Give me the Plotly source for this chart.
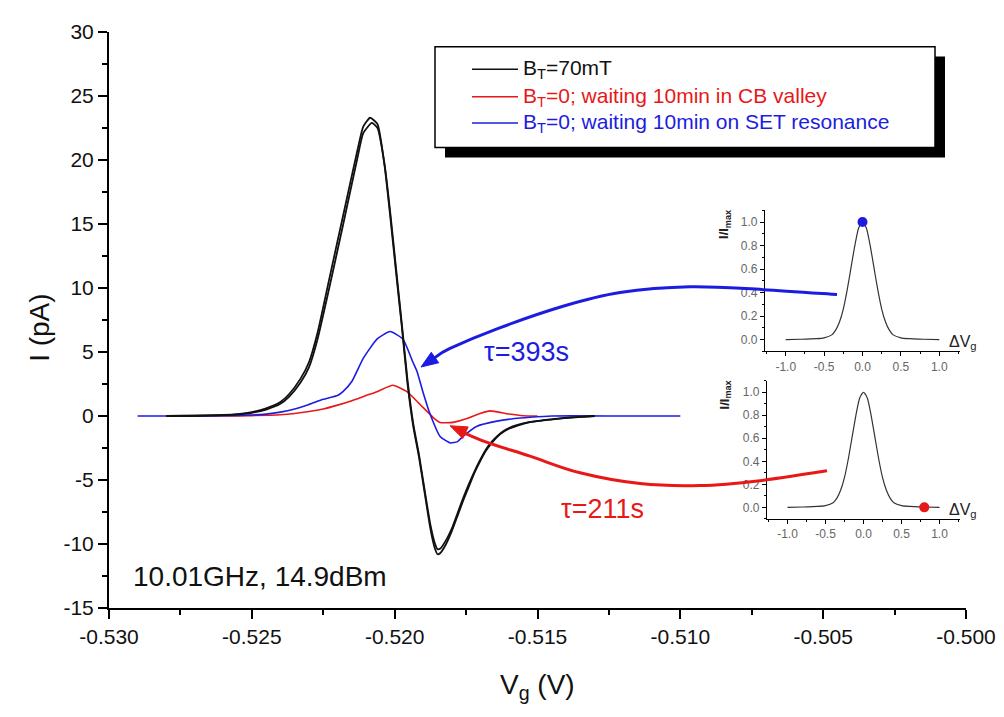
import math
import plotly.graph_objects as go

# ---------------- data ----------------
legend_names = ["B<sub>T</sub>=70mT",
                "B<sub>T</sub>=0; waiting 10min in CB valley",
                "B<sub>T</sub>=0; waiting 10min on SET resonance"]

black_a_x = [-0.5280, -0.5270, -0.5260, -0.5255, -0.5250, -0.5245, -0.5240, -0.5237, -0.5233, -0.5230,
             -0.5227, -0.5223, -0.5218, -0.5213, -0.5211, -0.52086, -0.5206, -0.52035, -0.52015, -0.51995,
             -0.51975, -0.51955, -0.51935, -0.51915, -0.51895, -0.51875, -0.5186, -0.5185, -0.5184, -0.5182,
             -0.5180, -0.5178, -0.5176, -0.5174, -0.5172, -0.5170, -0.5168, -0.5166, -0.5164, -0.5162,
             -0.5160, -0.5157, -0.5153, -0.5148, -0.5143, -0.5138, -0.5133, -0.5130]
black_a_y = [0, 0.02, 0.08, 0.15, 0.3, 0.6, 1.1, 1.7, 2.9, 4.2,
             6.5, 10.6, 15.7, 20.8, 22.6, 23.3, 22.8, 19.5, 15.5, 11.2,
             7.0, 2.5, -0.8, -3.2, -6.0, -8.8, -10.3, -10.8, -10.7, -10.0,
             -9.0, -7.8, -6.6, -5.5, -4.4, -3.5, -2.7, -2.1, -1.6, -1.25,
             -1.0, -0.75, -0.5, -0.35, -0.22, -0.12, -0.05, 0]

black_b_x = [-0.5280, -0.5270, -0.5260, -0.5255, -0.5250, -0.5245, -0.5240, -0.5237, -0.5233, -0.5230,
             -0.5227, -0.5223, -0.5218, -0.5213, -0.5211, -0.5208, -0.5206, -0.52035, -0.52015, -0.51995,
             -0.51975, -0.51955, -0.51935, -0.51915, -0.51895, -0.51875, -0.5186, -0.5185, -0.5184, -0.5182,
             -0.5180, -0.5178, -0.5176, -0.5174, -0.5172, -0.5170, -0.5168, -0.5166, -0.5164, -0.5162,
             -0.5160, -0.5157, -0.5153, -0.5148, -0.5143, -0.5138, -0.5133, -0.5130]
black_b_y = [0, 0.02, 0.07, 0.13, 0.25, 0.5, 0.95, 1.5, 2.6, 3.8,
             6.0, 9.9, 15.0, 20.2, 22.1, 22.9, 22.5, 19.6, 15.8, 11.5,
             7.2, 2.8, -0.6, -3.0, -5.8, -8.5, -9.9, -10.4, -10.35, -9.7,
             -8.8, -7.6, -6.4, -5.3, -4.3, -3.4, -2.6, -2.0, -1.55, -1.2,
             -0.95, -0.7, -0.48, -0.33, -0.2, -0.11, -0.04, 0]

blue_x = [-0.5290, -0.5270, -0.5260, -0.5250, -0.5245, -0.5240, -0.5235, -0.5230, -0.5225, -0.5220,
          -0.52181, -0.5215, -0.5211, -0.52062, -0.52016, -0.51971, -0.51936, -0.51922, -0.5190, -0.51876,
          -0.51841, -0.51806, -0.5178, -0.51761, -0.51712, -0.51642, -0.5158, -0.51526, -0.5145, -0.5120,
          -0.5100]
blue_y = [0, 0, 0.02, 0.08, 0.15, 0.3, 0.55, 0.9, 1.3, 1.6,
          1.9, 2.7, 4.5, 6.0, 6.6, 6.0, 4.2, 3.5, 1.8, 0.15,
          -1.6, -2.1, -2.0, -1.6, -0.8, -0.4, -0.2, -0.1, 0, 0,
          0]

red_x = [-0.5280, -0.5260, -0.5250, -0.5240, -0.5235, -0.5230, -0.5225, -0.5220, -0.5215, -0.5210,
         -0.52062, -0.52006, -0.51957, -0.51911, -0.51866, -0.51841, -0.51796, -0.51747, -0.51701, -0.51666,
         -0.5160, -0.5155, -0.5150]
red_y = [0, 0, 0.03, 0.1, 0.2, 0.35, 0.55, 0.85, 1.2, 1.6,
         1.9, 2.4, 1.9, 0.9, -0.1, -0.5, -0.5, -0.2, 0.2, 0.4,
         0.15, 0.02, 0]

inset_x = [-1.0, -0.8, -0.6, -0.5, -0.4, -0.35, -0.3, -0.25, -0.2, -0.15, -0.1, -0.05, 0.0,
           0.05, 0.1, 0.15, 0.2, 0.25, 0.3, 0.35, 0.4, 0.5, 0.6, 0.8, 1.0]
inset_y = [0, 0.003, 0.008, 0.015, 0.04, 0.08, 0.15, 0.26, 0.42, 0.61, 0.8, 0.95, 1.0,
           0.95, 0.8, 0.61, 0.42, 0.26, 0.15, 0.08, 0.04, 0.015, 0.008, 0.003, 0]
dot_top = ([0.0], [1.0])
dot_bottom = ([0.8], [0.0])

x_ticks = [-0.530, -0.525, -0.520, -0.515, -0.510, -0.505, -0.500]
x_tick_text = ["-0.530", "-0.525", "-0.520", "-0.515", "-0.510", "-0.505", "-0.500"]
y_ticks = [-15, -10, -5, 0, 5, 10, 15, 20, 25, 30]
y_tick_text = ["-15", "-10", "-5", "0", "5", "10", "15", "20", "25", "30"]
in_x_ticks = [-1.0, -0.5, 0.0, 0.5, 1.0]
in_x_text = ["-1.0", "-0.5", "0.0", "0.5", "1.0"]
in_y_ticks = [0.0, 0.2, 0.4, 0.6, 0.8, 1.0]
in_y_text = ["0.0", "0.2", "0.4", "0.6", "0.8", "1.0"]

# ---------------- layout helpers ----------------
W, H = 1004, 717
OFF = 8                     # page offset of the plot div (body margin)
L, R, T, B = 109, 966, 20, 608   # plot area in page pixels
def px(x): return (x - L) / (R - L)
def py(y): return (B - y) / (B - T)

FONT = "Liberation Sans, Arial, sans-serif"
BLACK = "#111111"
RED = "#e81818"
BLUE = "#1c1ce0"

fig = go.Figure()

fig.add_trace(go.Scatter(x=red_x, y=red_y, mode="lines", name=legend_names[1], showlegend=False,
                         line=dict(color=RED, width=1.6, shape="spline", smoothing=0.5)))
fig.add_trace(go.Scatter(x=blue_x, y=blue_y, mode="lines", name=legend_names[2], showlegend=False,
                         line=dict(color=BLUE, width=1.6, shape="spline", smoothing=0.5)))
fig.add_trace(go.Scatter(x=black_a_x, y=black_a_y, mode="lines", name=legend_names[0], showlegend=False,
                         line=dict(color=BLACK, width=1.8, shape="spline", smoothing=0.5)))
fig.add_trace(go.Scatter(x=black_b_x, y=black_b_y, mode="lines", name=legend_names[0], showlegend=False,
                         line=dict(color=BLACK, width=1.8, shape="spline", smoothing=0.5)))

# insets
for k, dot, col in [("2", dot_top, BLUE), ("3", dot_bottom, RED)]:
    fig.add_trace(go.Scatter(x=inset_x, y=inset_y, mode="lines", xaxis="x" + k, yaxis="y" + k,
                             showlegend=False, line=dict(color="#333333", width=1.2, shape="spline", smoothing=0.6)))
    fig.add_trace(go.Scatter(x=dot[0], y=dot[1], mode="markers", xaxis="x" + k, yaxis="y" + k,
                             showlegend=False, marker=dict(color=col, size=10)))

main_axis = dict(showline=True, linecolor="black", linewidth=2, ticks="outside", ticklen=9, tickwidth=2,
                 tickcolor="black", showgrid=False, zeroline=False,
                 tickfont=dict(family=FONT, size=21, color="#111"))
fig.update_layout(
    xaxis=dict(main_axis, range=[-0.530, -0.500], tickvals=x_ticks, ticktext=x_tick_text,
               minor=dict(ticks="outside", ticklen=5, tickwidth=2, tickcolor="black", dtick=0.0025,
                          tick0=-0.530, showgrid=False)),
    yaxis=dict(main_axis, range=[-15, 30], tickvals=y_ticks, ticktext=y_tick_text,
               minor=dict(ticks="outside", ticklen=5, tickwidth=2, tickcolor="black", dtick=2.5,
                          tick0=-15, showgrid=False)),
)

inset_axis = dict(showline=True, linecolor="black", linewidth=1.3, ticks="outside", ticklen=4, tickwidth=1,
                  tickcolor="black", showgrid=False, zeroline=False,
                  tickfont=dict(family=FONT, size=12, color="#666"))
in_xminor = dict(ticks="outside", ticklen=2, tickwidth=1, tickcolor="black", dtick=0.25, tick0=-1.0, showgrid=False)
in_yminor = dict(ticks="outside", ticklen=2, tickwidth=1, tickcolor="black", dtick=0.1, tick0=0, showgrid=False)
fig.update_layout(
    xaxis2=dict(inset_axis, domain=[px(765), px(960)], anchor="y2", range=[-1.27, 1.27],
                tickvals=in_x_ticks, ticktext=in_x_text, minor=in_xminor),
    yaxis2=dict(inset_axis, domain=[py(346), py(202)], anchor="x2", range=[-0.1, 1.1],
                tickvals=in_y_ticks, ticktext=in_y_text, minor=in_yminor),
    xaxis3=dict(inset_axis, domain=[px(767), px(960)], anchor="y3", range=[-1.27, 1.27],
                tickvals=in_x_ticks, ticktext=in_x_text, minor=in_xminor),
    yaxis3=dict(inset_axis, domain=[py(517), py(376)], anchor="x3", range=[-0.1, 1.1],
                tickvals=in_y_ticks, ticktext=in_y_text, minor=in_yminor),
)

shapes = []
annotations = []

def text(t, x, y, size, color, xa="center", ya="middle", angle=0):
    annotations.append(dict(text=t, xref="paper", yref="paper", x=px(x), y=py(y), xanchor=xa, yanchor=ya,
                            textangle=angle, showarrow=False, font=dict(family=FONT, size=size, color=color)))

# legend box with shadow
shapes.append(dict(type="rect", xref="paper", yref="paper", x0=px(445), x1=px(945), y0=py(148), y1=py(45),
                   fillcolor="black", line=dict(width=0), layer="above"))
shapes.append(dict(type="rect", xref="paper", yref="paper", x0=px(435), x1=px(935), y0=py(138), y1=py(35),
                   fillcolor="white", line=dict(color="black", width=1.5), layer="above"))
for name, col, yy in zip(legend_names, [BLACK, RED, BLUE], [58, 86, 113]):
    shapes.append(dict(type="line", xref="paper", yref="paper", x0=px(472), x1=px(518), y0=py(yy), y1=py(yy),
                       line=dict(color=col, width=1.5), layer="above"))
    text(name, 521, yy, 21, col, xa="left")


def smooth_path(pts):
    P = [(px(a), py(b)) for a, b in pts]
    d = "M %.5f,%.5f" % P[0]
    n = len(P)
    for i in range(n - 1):
        p0 = P[i - 1] if i > 0 else P[i]
        p1 = P[i]
        p2 = P[i + 1]
        p3 = P[i + 2] if i + 2 < n else P[i + 1]
        c1 = (p1[0] + (p2[0] - p0[0]) / 6, p1[1] + (p2[1] - p0[1]) / 6)
        c2 = (p2[0] - (p3[0] - p1[0]) / 6, p2[1] - (p3[1] - p1[1]) / 6)
        d += " C %.5f,%.5f %.5f,%.5f %.5f,%.5f" % (c1 + c2 + p2)
    return d


def head_path(tip, frm, length=17, half=6.5):
    dx, dy = tip[0] - frm[0], tip[1] - frm[1]
    n = math.hypot(dx, dy)
    ux, uy = dx / n, dy / n
    bx, by = tip[0] - length * ux, tip[1] - length * uy
    pts = [tip, (bx - half * uy, by + half * ux), (bx + half * uy, by - half * ux)]
    return "M " + " L ".join("%.5f,%.5f" % (px(a), py(b)) for a, b in pts) + " Z"

blue_arc = [(837, 288), (763, 283), (690, 280), (620, 286), (563, 300), (497, 323), (450, 343), (434, 353)]
red_arc = [(827, 468), (760, 478), (700, 483), (640, 481), (580, 470), (530, 453), (490, 440), (468, 431), (462, 428)]
shapes.append(dict(type="path", xref="paper", yref="paper", path=smooth_path(blue_arc),
                   line=dict(color=BLUE, width=3), layer="above"))
shapes.append(dict(type="path", xref="paper", yref="paper", path=smooth_path(red_arc),
                   line=dict(color=RED, width=3), layer="above"))
shapes.append(dict(type="path", xref="paper", yref="paper", path=head_path((421, 362), (447, 344)),
                   fillcolor=BLUE, line=dict(color=BLUE, width=1), layer="above"))
shapes.append(dict(type="path", xref="paper", yref="paper", path=head_path((450, 422), (472, 432)),
                   fillcolor=RED, line=dict(color=RED, width=1), layer="above"))

# text labels
text("τ=393s", 526, 347, 27, BLUE)
text("τ=211s", 602, 507, 27, RED)
text("10.01GHz, 14.9dBm", 131, 576, 28, "#111", xa="left")
# axis titles
text("V<sub>g</sub> (V)", 537, 688, 28, "#111")
text("I (pA)", 40, 322, 28, "#111", angle=-90)
# inset labels
for yy_lab, yy_dv in [(217, 337), (391, 508)]:
    text("<b>I/I<sub>max</sub></b>", 725, yy_lab, 13, "#222", angle=-90)
    text("ΔV<sub>g</sub>", 947, yy_dv, 16, "#222", xa="left")

fig.update_layout(width=W, height=H,
                  margin=dict(l=L - OFF, r=W - R + OFF, t=T - OFF, b=H - B + OFF),
                  paper_bgcolor="white", plot_bgcolor="white", showlegend=False,
                  shapes=shapes, annotations=annotations, font=dict(family=FONT))

fig.write_html("out.html")
